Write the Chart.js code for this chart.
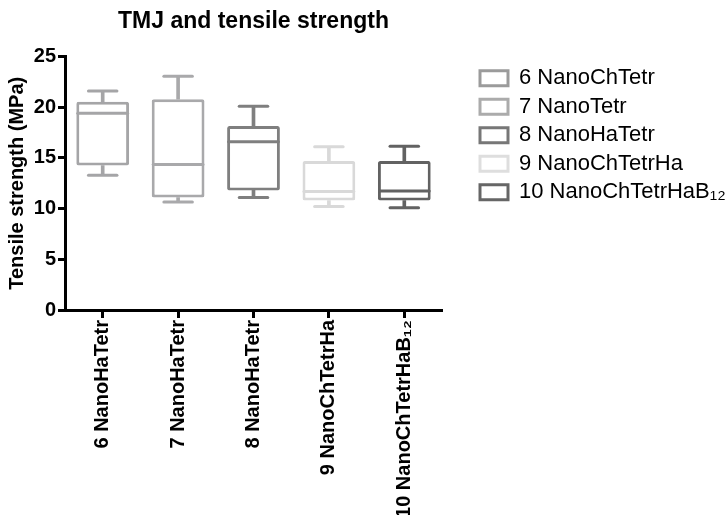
<!DOCTYPE html>
<html>
<head>
<meta charset="utf-8">
<script src="https://cdn.jsdelivr.net/npm/chart.js@4.4.1/dist/chart.umd.min.js"></script>
<style>
  body { margin: 0; background: #fff; }
  #wrap { width: 727px; height: 515px; position: relative; }
</style>
</head>
<body>
<div id="wrap"><canvas id="chart"></canvas></div>
<script>
// Categories on the x axis and names in the legend
const categories = ['6 NanoHaTetr', '7 NanoHaTetr', '8 NanoHaTetr', '9 NanoChTetrHa', '10 NanoChTetrHaB\u2081\u2082'];
const legendNames = ['6 NanoChTetr', '7 NanoTetr', '8 NanoHaTetr', '9 NanoChTetrHa', '10 NanoChTetrHaB\u2081\u2082'];

// Box plot values (MPa)
const mins    = [13.3, 10.65, 11.1, 10.2, 10.1];
const q1      = [14.25, 11.1, 11.8, 10.8, 10.8];
const medians = [19.4, 14.35, 16.6, 11.7, 11.75];
const q3      = [20.55, 20.8, 18.15, 14.7, 14.7];
const maxs    = [21.6, 23.05, 20.1, 16.1, 16.15];

const yTicks = [0, 5, 10, 15, 20, 25];

const boxColors = ['#a5a5a7', '#a9a9ab', '#7f7f7f', '#d9d9d9', '#626262'];
const legendColors = ['#9b9b9b', '#ababab', '#777777', '#dedede', '#666666'];

const FONT = "'Liberation Sans', Arial, sans-serif";

// Median lines and whisker caps, drawn through the scales
const boxPlotLines = {
    id: 'boxPlotLines',
    afterDatasetsDraw(chart) {
        const { ctx, scales: { x, y } } = chart;
        const meta = chart.getDatasetMeta(0);
        ctx.save();
        ctx.lineWidth = 3;
        ctx.lineCap = 'round';
        meta.data.forEach((bar, i) => {
            const cx = x.getPixelForValue(i);
            const half = bar.width / 2 - 1.5;
            const cap = bar.width * 0.27;
            ctx.strokeStyle = boxColors[i];
            const hline = (x0, x1, v) => {
                const py = y.getPixelForValue(v);
                ctx.beginPath();
                ctx.moveTo(x0, py);
                ctx.lineTo(x1, py);
                ctx.stroke();
            };
            hline(cx - half, cx + half, medians[i]);
            hline(cx - cap, cx + cap, maxs[i]);
            hline(cx - cap, cx + cap, mins[i]);
        });
        ctx.restore();
    }
};

const ctx = document.getElementById('chart').getContext('2d');

new Chart(ctx, {
    type: 'bar',
    data: {
        labels: categories,
        datasets: [
            {
                label: 'box',
                data: categories.map((c, i) => [q1[i], q3[i]]),
                backgroundColor: '#ffffff',
                borderColor: boxColors,
                borderWidth: 3,
                borderSkipped: false,
                borderRadius: 2,
                grouped: false,
                barPercentage: 0.7,
                categoryPercentage: 1.0,
                order: 1
            },
            {
                label: 'upper whisker',
                data: categories.map((c, i) => [q3[i], maxs[i]]),
                backgroundColor: boxColors,
                borderWidth: 0,
                grouped: false,
                barThickness: 3,
                order: 2
            },
            {
                label: 'lower whisker',
                data: categories.map((c, i) => [mins[i], q1[i]]),
                backgroundColor: boxColors,
                borderWidth: 0,
                grouped: false,
                barThickness: 3,
                order: 2
            }
        ]
    },
    options: {
        responsive: true,
        maintainAspectRatio: false,
        animation: false,
        layout: { padding: 0 },
        plugins: {
            tooltip: { enabled: false },
            title: {
                display: true,
                text: 'TMJ and tensile strength',
                fullSize: false,
                color: '#000',
                font: { family: FONT, size: 23, weight: 'bold' },
                padding: { top: 8, bottom: 21 }
            },
            legend: {
                position: 'right',
                align: 'start',
                fullSize: false,
                maxWidth: 253.5,
                onClick: null,
                title: {
                    display: true,
                    text: '',
                    font: { family: FONT, size: 1 },
                    padding: { top: 1, bottom: 2 }
                },
                labels: {
                    color: '#000',
                    font: { family: FONT, size: 22 },
                    boxWidth: 28,
                    boxHeight: 15,
                    padding: 6.5,
                    generateLabels: () => legendNames.map((text, i) => ({
                        text,
                        fillStyle: '#ffffff',
                        strokeStyle: legendColors[i],
                        lineWidth: 3,
                        fontColor: '#000',
                        hidden: false,
                        index: i,
                        datasetIndex: 0
                    }))
                }
            }
        },
        scales: {
            x: {
                type: 'category',
                offset: true,
                afterFit: s => { s.height = 205; },
                grid: {
                    offset: false,
                    drawOnChartArea: false,
                    drawTicks: true,
                    tickLength: 8,
                    tickWidth: 3,
                    tickColor: '#000'
                },
                border: { display: true, color: '#000', width: 3 },
                ticks: {
                    color: '#000',
                    font: { family: FONT, size: 20, weight: 'bold' },
                    minRotation: 90,
                    maxRotation: 90,
                    autoSkip: false,
                    padding: 2
                }
            },
            y: {
                min: 0,
                max: 25,
                afterFit: s => { s.width = 65; },
                afterBuildTicks: s => { s.ticks = yTicks.map(v => ({ value: v })); },
                grid: {
                    drawOnChartArea: false,
                    drawTicks: true,
                    tickLength: 7,
                    tickWidth: 3,
                    tickColor: '#000'
                },
                border: { display: true, color: '#000', width: 3 },
                ticks: {
                    color: '#000',
                    font: { family: FONT, size: 20, weight: 'bold' },
                    padding: 2
                },
                title: {
                    display: true,
                    text: 'Tensile strength (MPa)',
                    color: '#000',
                    font: { family: FONT, size: 20, weight: 'bold' },
                    padding: { top: 5, bottom: 0 }
                }
            },
            gap: {
                type: 'linear',
                position: 'right',
                display: true,
                afterFit: s => { s.width = 31.5; },
                grid: { display: false },
                border: { display: false },
                ticks: { display: false }
            }
        }
    },
    plugins: [boxPlotLines]
});
</script>
</body>
</html>
